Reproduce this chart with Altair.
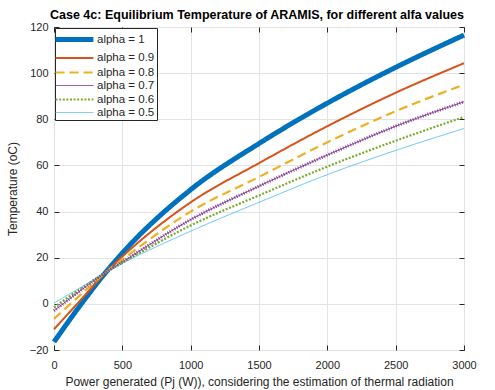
import altair as alt
import pandas as pd

# ---- data ----
power = [0, 200, 400, 500, 1000, 1500, 2000, 2500, 3000]
t_a10 = [-16.5, 0.0, 15.2, 22.0, 49.5, 69.5, 87.0, 102.5, 116.5]
t_a09 = [-11.0, 2.0, 14.9, 20.5, 44.0, 61.0, 77.0, 91.5, 104.3]
t_a08 = [-6.5, 4.2, 14.7, 19.2, 40.0, 55.0, 70.0, 83.5, 95.0]
t_a07 = [-3.0, 6.0, 14.5, 18.2, 36.5, 51.0, 64.5, 77.0, 87.6]
t_a06 = [-1.5, 6.8, 14.4, 17.8, 34.0, 47.0, 59.5, 70.7, 81.0]
t_a05 = [0.3, 7.3, 14.3, 17.5, 31.5, 44.0, 56.0, 66.5, 76.0]

labels = ["alpha = 1", "alpha = 0.9", "alpha = 0.8", "alpha = 0.7", "alpha = 0.6", "alpha = 0.5"]
series = [t_a10, t_a09, t_a08, t_a07, t_a06, t_a05]
colors = ["#0072BD", "#D95319", "#EDB120", "#7E2F8E", "#77AC30", "#4DBEEE"]
widths = [5, 2, 2.2, 1, 2.2, 0.9]
dashes = [[1, 0], [1, 0], [9, 5], [1, 0], [2, 1.6], [1, 0]]

x_ticks = [0, 500, 1000, 1500, 2000, 2500, 3000]
y_ticks = [-20, 0, 20, 40, 60, 80, 100, 120]

rows = []
for lab, vals in zip(labels, series):
    for p, t in zip(power, vals):
        rows.append({"P": p, "T": t, "s": lab})
df = pd.DataFrame(rows)
df_purple = df[df["s"] == "alpha = 0.7"]

FONT = "Liberation Sans"
INK = "#262626"
GRID = "#e3e3e3"

xscale = alt.Scale(domain=[0, 3000], nice=False, zero=False)
yscale = alt.Scale(domain=[-20, 120], nice=False, zero=False)

x_axis = alt.Axis(
    orient="bottom", values=x_ticks, format="d", grid=True, gridColor=GRID, domain=False,
    ticks=True, tickSize=5, tickColor=INK, offset=-5,
    labelFont=FONT, labelFontSize=11, labelColor=INK, labelPadding=9,
    labelFlush=False, labelOverlap=False,
    title="Power generated (Pj (W)), considering the estimation of thermal radiation",
    titleFont=FONT, titleFontSize=12, titleFontWeight="normal", titleColor=INK,
    titleY=36, titleBaseline="middle",
)
y_axis = alt.Axis(
    orient="left", values=y_ticks, format="d", grid=True, gridColor=GRID, domain=False,
    ticks=True, tickSize=5, tickColor=INK, offset=-5,
    labelFont=FONT, labelFontSize=11, labelColor=INK, labelPadding=6,
    labelFlush=False, labelOverlap=False,
    title="Temperature (oC)",
    titleFont=FONT, titleFontSize=12, titleFontWeight="normal", titleColor=INK,
    titleX=-47, titleBaseline="middle",
)
x_axis_top = alt.Axis(
    orient="top", values=x_ticks, grid=False, domain=False, labels=False,
    ticks=True, tickSize=5, tickColor=INK, offset=-5, title=None,
)
y_axis_right = alt.Axis(
    orient="right", values=y_ticks, grid=False, domain=False, labels=False,
    ticks=True, tickSize=5, tickColor=INK, offset=-5, title=None,
)

legend = alt.Legend(
    title=None, orient="none", legendX=1, legendY=1,
    symbolType="M-2.7,0H2.7", symbolSize=196, symbolOffset=8,
    labelFont=FONT, labelFontSize=11.5, labelColor=INK, labelOffset=13,
    strokeColor=INK, fillColor="white", padding=2, rowPadding=0,
)

lines = alt.Chart(df).mark_line(interpolate="monotone", strokeCap="butt").encode(
    x=alt.X("P:Q", scale=xscale, axis=x_axis),
    y=alt.Y("T:Q", scale=yscale, axis=y_axis),
    color=alt.Color("s:N", scale=alt.Scale(domain=labels, range=colors), legend=legend, sort=labels),
    strokeDash=alt.StrokeDash("s:N", scale=alt.Scale(domain=labels, range=dashes), legend=legend, sort=labels),
    strokeWidth=alt.StrokeWidth("s:N", scale=alt.Scale(type="ordinal", domain=labels, range=widths), legend=legend, sort=labels),
)

purple_marks = alt.Chart(df_purple).mark_line(
    interpolate="monotone", color="#7E2F8E", strokeWidth=3.2, strokeDash=[0.8, 1.8], strokeCap="butt"
).encode(
    x=alt.X("P:Q", scale=xscale, axis=x_axis_top),
    y=alt.Y("T:Q", scale=yscale, axis=y_axis_right),
)

chart = alt.layer(lines, purple_marks).resolve_axis(x="independent", y="independent").properties(
    width=410, height=323,
    autosize=alt.AutoSizeParams(type="none"),
    padding={"left": 54, "top": 27, "right": 31, "bottom": 40},
    background="white",
    title=alt.TitleParams(
        text="Case 4c: Equilibrium Temperature of ARAMIS, for different alfa values",
        font=FONT, fontSize=12.5, fontWeight="bold", color="black",
        anchor="middle", offset=0, dx=-2,
    ),
).configure_view(stroke=INK, strokeWidth=1)

chart.save("out.html", embed_options={"renderer": "svg", "actions": False})
